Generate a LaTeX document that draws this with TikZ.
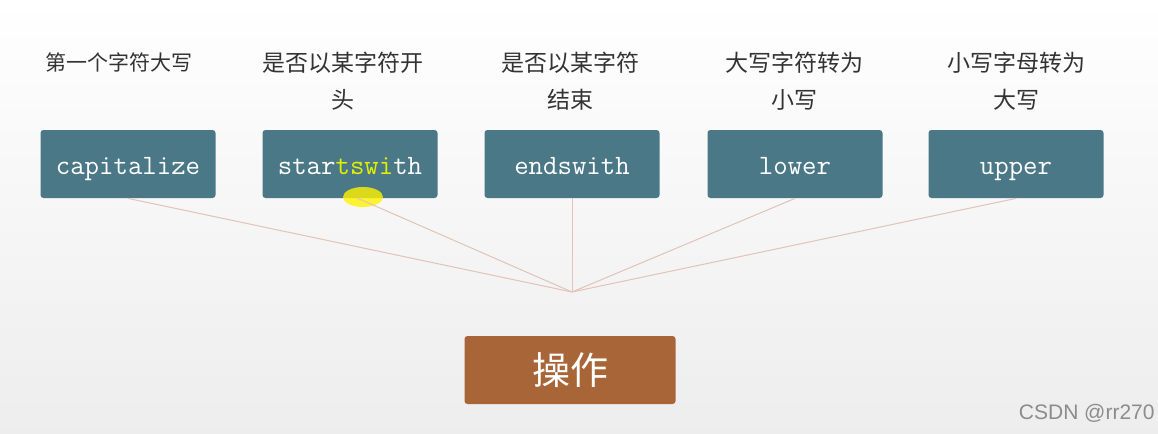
\documentclass[tikz,border=0pt]{standalone}
\usepackage{fontspec}
\newfontfamily\cjk{Noto Sans CJK SC}
\newfontfamily\marksans{Liberation Sans}
\definecolor{boxteal}{HTML}{4A7886}
\definecolor{opbrown}{HTML}{A86538}
\definecolor{linkpink}{HTML}{E2C3B6}
\definecolor{hlyellow}{HTML}{E0F000}
\tikzset{
  funcbox/.style={fill=boxteal, rounded corners=1.5pt, minimum width=87.5pt,
    minimum height=34pt, inner sep=0pt, text=white, text height=11pt, text depth=1pt,
    font=\ttfamily\fontsize{14}{16}\selectfont},
  desc/.style={anchor=north, align=center, inner sep=0pt, text=black!80,
    font=\cjk\fontsize{11.5}{18.5}\selectfont},
  link/.style={draw=linkpink, line width=0.5pt},
  opbox/.style={fill=opbrown, rounded corners=1.5pt, minimum width=105.5pt,
    minimum height=34pt, inner sep=0pt, text=white,
    font=\cjk\fontsize{19}{22}\selectfont}
}
\begin{document}
\begin{tikzpicture}[x=0.5pt,y=-0.5pt]
  \useasboundingbox (0,0) rectangle (1158,434);
  \shade[top color=white, bottom color=black!7] (0,0) rectangle (1158,434);
  % descriptions
  \node[desc, font=\cjk\fontsize{10.5}{18.5}\selectfont] (d1) at (119,52) {第一个字符大写};
  \node[desc] (d2) at (343,52) {是否以某字符开\\头};
  \node[desc] (d3) at (570,52) {是否以某字符\\结束};
  \node[desc] (d4) at (794,52) {大写字符转为\\小写};
  \node[desc] (d5) at (1016,52) {小写字母转为\\大写};
  % functions
  \node[funcbox] (cap) at (128,164) {capitalize};
  \node[funcbox] (sw) at (350,164) {star\textcolor{hlyellow}{tswi}th};
  \node[funcbox] (ew) at (572,164) {endswith};
  \node[funcbox] (low) at (795,164) {lower};
  \node[funcbox] (up) at (1016,164) {upper};
  \fill[yellow, opacity=0.8] (363,197) ellipse (20 and 10);
  % links
  \coordinate (hub) at (572,292);
  \draw[link] (cap.south) -- (hub);
  \draw[link] (357,198) -- (hub);
  \draw[link] (ew.south) -- (hub);
  \draw[link] (low.south) -- (hub);
  \draw[link] (up.south) -- (hub);
  \node[opbox] (op) at (570,370) {操作};
  \node[anchor=east, inner sep=0pt, text=black!45,
    font=\marksans\fontsize{10.5}{12}\selectfont] (mark) at (1155,413) {CSDN @rr270};
\end{tikzpicture}
\end{document}
